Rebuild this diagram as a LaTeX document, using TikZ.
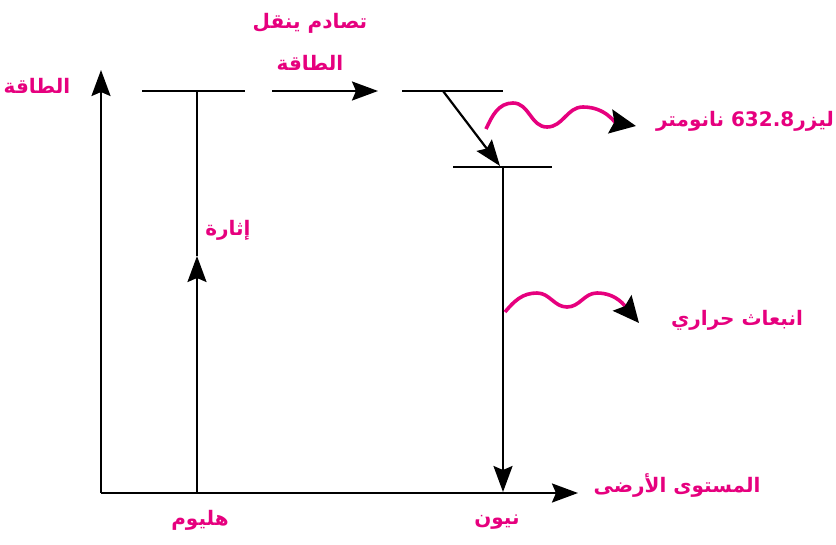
\documentclass[tikz,border=0pt]{standalone}
\usepackage{fontspec}
\newfontfamily\arabicfont[Script=Arabic]{DejaVu Sans}
\TeXXeTstate=1
\usetikzlibrary{arrows.meta,positioning}
\definecolor{lblpink}{HTML}{E6007E}

\begin{document}
\begin{tikzpicture}[
  x=1pt, y=-1pt,
  >={Stealth[length=26pt,width=19pt,inset=4pt]},
  axis/.style={->, line width=2.4pt},
  level/.style={line width=2.4pt},
  trans/.style={->, line width=2.2pt},
  wave/.style={draw=lblpink, line width=3.6pt,
    -{Stealth[length=26pt,width=24pt,inset=4pt,black]}},
  lbl/.style={text=lblpink, font=\arabicfont\bfseries\fontsize{20}{42}\selectfont,
    align=center, inner sep=1pt}
]
\useasboundingbox (0,0) rectangle (836,544);

% =============================================================
% frame: energy axis and ground level
% =============================================================
\coordinate (origin) at (101,493);
\coordinate (yTip) at (101,70);
\coordinate (xTip) at (578,493);

\draw[axis] (origin) -- (yTip);
\draw[axis] (origin) -- (xTip);

% =============================================================
% helium: excitation to upper level
% =============================================================
\coordinate (heBase) at (197,493);
\coordinate (heMid) at (197,256);
\coordinate (heUp) at (197,91);
\coordinate (heL) at (142,91);
\coordinate (heR) at (245,91);

\draw[level] (heL) -- (heR);
\draw[trans] (heBase) -- (heMid);
\draw[level] (heMid) -- (heUp);

% collision transfer
\coordinate (hitA) at (272,91);
\coordinate (hitB) at (378,91);
\draw[trans] (hitA) -- (hitB);

% =============================================================
% neon: upper level, lower level, decay
% =============================================================
\coordinate (neUL) at (402,91);
\coordinate (neUR) at (503,91);
\coordinate (neDropA) at (443,91);
\coordinate (neDropB) at (500,166);
\coordinate (neLL) at (453,167);
\coordinate (neLR) at (552,167);
\coordinate (neLow) at (503,167);
\coordinate (neBase) at (503,492);

\draw[level] (neUL) -- (neUR);
\draw[level] (neLL) -- (neLR);
\draw[trans] (neDropA) -- (neDropB);
\draw[trans] (neLow) -- (neBase);

% =============================================================
% emitted waves
% =============================================================
\coordinate (laserA) at (486,129);
\coordinate (laserB) at (636,126);
\draw[wave] (laserA) to[out=65,in=180] (513,103)
  to[out=0,in=180] (547,127) to[out=0,in=180] (583,107)
  to[out=0,in=170] (laserB);

\coordinate (heatA) at (505,312);
\coordinate (heatB) at (639,323);
\draw[wave] (heatA) to[out=50,in=180] (537,293)
  to[out=0,in=180] (567,307) to[out=0,in=180] (597,293)
  to[out=0,in=130] (heatB);

% =============================================================
% labels
% =============================================================
\node[lbl] (energy) at (37,86) {\beginR الطاقة\endR};
\node[lbl] (hit) at (310,42)
  {\beginR تصادم ينقل\endR\\\beginR الطاقة\endR};
\node[lbl] (excite) at (228,230) {\beginR إثارة\endR};
\node[lbl] (laser) at (745,121)
  {\beginR ليزر\beginL632.8\endL{} نانومتر\endR};
\node[lbl] (heat) at (737,320) {\beginR انبعاث حراري\endR};
\node[lbl] (ground) at (677,485) {\beginR المستوى الأرضى\endR};
\node[lbl] (neon) at (497,522) {\beginR نيون\endR};
\node[lbl] (helium) at (200,520) {\beginR هليوم\endR};

\end{tikzpicture}
\end{document}
